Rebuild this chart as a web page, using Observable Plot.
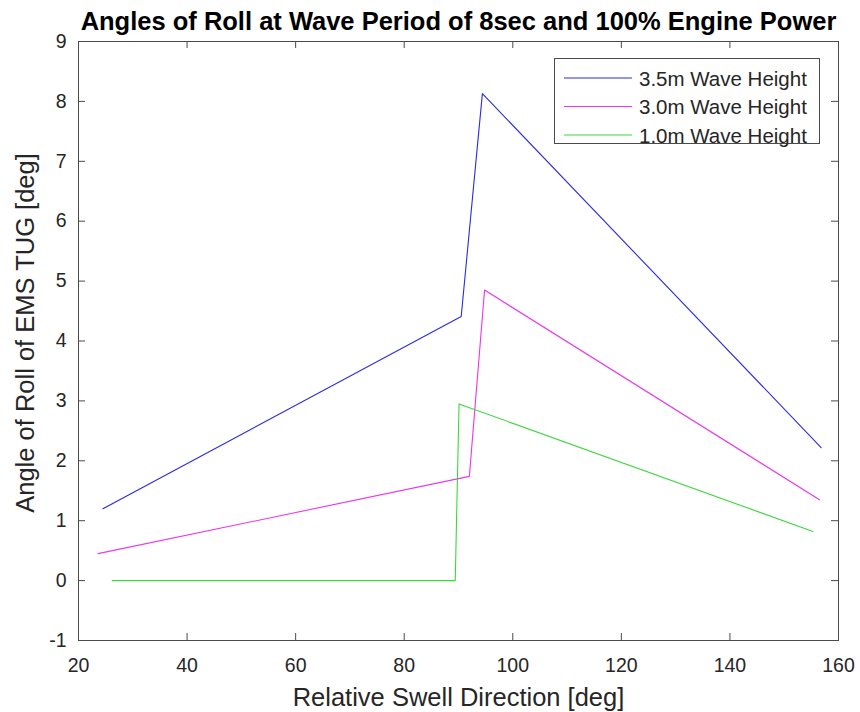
<!DOCTYPE html>
<html>
<head>
<meta charset="utf-8">
<script src="https://cdn.jsdelivr.net/npm/d3@7"></script>
<script src="https://cdn.jsdelivr.net/npm/@observablehq/plot@0.6"></script>
<style>
  body { margin: 0; background: #fff; }
  #chart svg { display: block; }
</style>
</head>
<body>
<div id="chart"></div>
<script>
// Labels
const title = "Angles of Roll at Wave Period of 8sec and 100% Engine Power";
const xLabel = "Relative Swell Direction [deg]";
const yLabel = "Angle of Roll of EMS TUG [deg]";

// Series
const seriesNames = ["3.5m Wave Height", "3.0m Wave Height", "1.0m Wave Height"];
const seriesColors = ["#2a2ae6", "#ea36ea", "#3ad83a"];

const direction35 = [24.5, 90.5, 94.4, 156.8];
const roll35      = [1.20, 4.41, 8.13, 2.22];

const direction30 = [23.6, 92.0, 94.8, 156.5];
const roll30      = [0.45, 1.74, 4.85, 1.35];

const direction10 = [26.2, 89.4, 90.1, 155.3];
const roll10      = [0.00, 0.00, 2.95, 0.82];

// Axis ticks
const xTicks = [20, 40, 60, 80, 100, 120, 140, 160];
const yTicks = [-1, 0, 1, 2, 3, 4, 5, 6, 7, 8, 9];

// Long-format table for the line mark
const seriesData = [
  [direction35, roll35],
  [direction30, roll30],
  [direction10, roll10]
];
const rows = seriesData.flatMap(([xs, ys], i) =>
  xs.map((x, j) => ({series: seriesNames[i], x, y: ys[j]}))
);

// Layout
const W = 860, H = 712;
const mL = 78, mR = 22, mT = 41, mB = 72;
const innerW = W - mL - mR, innerH = H - mT - mB;
const tickLen = 7;
const axisColor = "#4a4a4a";
const textColor = "#262626";
const font = "'Liberation Sans', Arial, Helvetica, sans-serif";

const chart = Plot.plot({
  width: W,
  height: H,
  marginLeft: mL,
  marginRight: mR,
  marginTop: mT,
  marginBottom: mB,
  style: {fontFamily: font, fontSize: "19.5px", color: textColor, background: "#fff", overflow: "visible"},
  x: {domain: [20, 160], label: null},
  y: {domain: [-1, 9], label: null},
  color: {domain: seriesNames, range: seriesColors},
  marks: [
    Plot.line(rows, {x: "x", y: "y", z: "series", stroke: "series", strokeWidth: 1.1}),
    // inward ticks on all four sides of the box
    Plot.tickX(xTicks, {x: d => d, insetTop: innerH - tickLen, stroke: axisColor}),
    Plot.tickX(xTicks, {x: d => d, insetBottom: innerH - tickLen, stroke: axisColor}),
    Plot.tickY(yTicks, {y: d => d, insetRight: innerW - tickLen, stroke: axisColor}),
    Plot.tickY(yTicks, {y: d => d, insetLeft: innerW - tickLen, stroke: axisColor}),
    Plot.frame({stroke: axisColor}),
    Plot.axisX(xTicks, {tickSize: 0, tickPadding: 18, tickFormat: d => String(d), fill: textColor}),
    Plot.axisY(yTicks, {tickSize: 0, tickPadding: 12, tickFormat: d => String(d), fill: textColor}),
    Plot.text([title], {
      frameAnchor: "top", lineAnchor: "bottom", textAnchor: "middle", dy: -12,
      text: d => d, fontSize: 25.5, fontWeight: "bold", fill: "#000"
    }),
    Plot.text([xLabel], {
      frameAnchor: "bottom", lineAnchor: "bottom", textAnchor: "middle", dy: 65,
      text: d => d, fontSize: 25.5, fill: textColor
    }),
    Plot.text([yLabel], {
      frameAnchor: "left", lineAnchor: "bottom", textAnchor: "middle", rotate: -90, dx: -45, dy: -8,
      text: d => d, fontSize: 25.5, fill: textColor
    })
  ]
});

document.getElementById("chart").appendChild(chart);

// Legend box in the upper-right corner of the axes
const svg = d3.select(chart);
const legW = 265, legH = 85, rowH = 28.5;
const legX = W - mR - 19 - legW, legY = mT + 17;
const leg = svg.append("g").attr("transform", `translate(${legX},${legY})`);
leg.append("rect")
  .attr("x", 0.5).attr("y", 0.5)
  .attr("width", legW).attr("height", legH)
  .attr("fill", "#fff").attr("stroke", axisColor).attr("stroke-width", 1);
seriesNames.forEach((name, i) => {
  const cy = 20 + i * rowH;
  leg.append("line")
    .attr("x1", 10).attr("x2", 78)
    .attr("y1", cy).attr("y2", cy)
    .attr("stroke", seriesColors[i]).attr("stroke-width", 1.1);
  leg.append("text")
    .attr("x", 85).attr("y", cy + 7.5)
    .attr("text-anchor", "start")
    .attr("font-family", font).attr("font-size", 20.5)
    .attr("fill", textColor)
    .text(name);
});
</script>
</body>
</html>
